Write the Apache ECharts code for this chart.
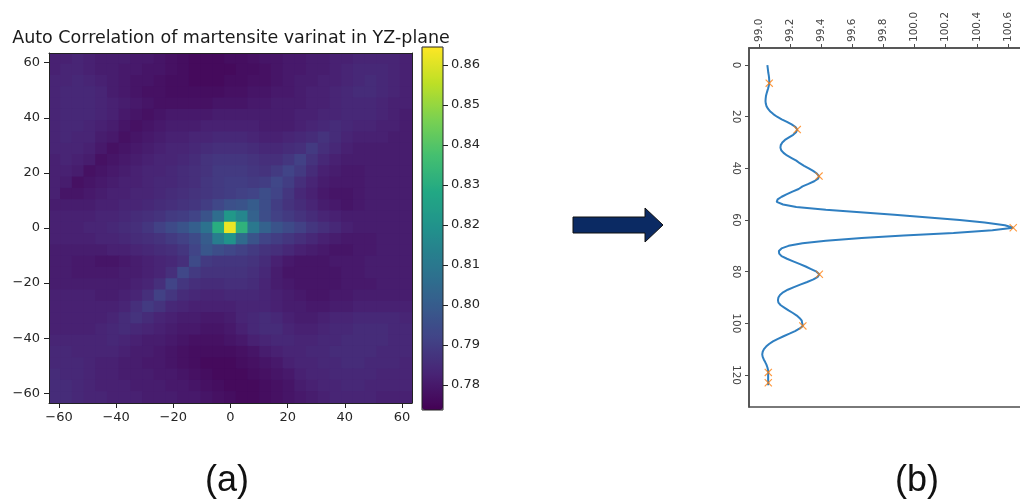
<!DOCTYPE html>
<html><head><meta charset="utf-8">
<script src="https://cdn.jsdelivr.net/npm/echarts@6/dist/echarts.min.js"></script>
<style>html,body{margin:0;padding:0;background:#fff}#c{width:1020px;height:502px}</style>
</head><body><div id="c"></div>
<script>
const titleText = 'Auto Correlation of martensite varinat in YZ-plane';
const heatTicks = [-60, -40, -20, 0, 20, 40, 60];
const colorbarTicks = [0.78, 0.79, 0.80, 0.81, 0.82, 0.83, 0.84, 0.85, 0.86];
const profileValueTicks = [99.0, 99.2, 99.4, 99.6, 99.8, 100.0, 100.2, 100.4, 100.6];
const profileIndexTicks = [0, 20, 40, 60, 80, 100, 120];
const panelLabels = ['(a)', '(b)'];

// auto-correlation values (x 1/1000), 31 rows from y=+63 (top) to y=-63 (bottom), 31 cols from x=-63 to +63
const heatRows = [
[782,782,783,782,781,781,781,780,780,779, 778,777,776,776,776,777,777,778,779,779, 780,780,781,781,782,782,783,783,783,783, 782],
[782,783,783,782,781,781,780,780,779,779, 778,777,776,776,776,776,777,777,778,779, 780,780,781,781,782,783,784,784,784,783, 782],
[783,783,784,783,782,781,780,779,779,778, 777,777,776,776,776,777,777,778,778,779, 780,781,781,782,782,783,784,785,784,783, 782],
[783,784,784,784,783,781,780,779,778,778, 777,777,777,777,777,778,778,779,779,780, 780,781,782,782,783,784,785,785,784,783, 782],
[783,784,784,784,783,782,781,780,779,778, 778,778,778,778,779,779,779,780,780,781, 781,781,782,782,783,784,784,784,783,782, 782],
[783,784,784,784,783,782,780,779,778,779, 780,780,780,780,781,781,781,781,781,781, 781,782,782,783,783,784,784,784,783,782, 781],
[783,784,784,783,782,781,779,778,779,780, 781,781,781,782,782,782,782,782,781,781, 781,782,783,784,785,784,783,783,782,782, 781],
[783,784,783,783,781,780,778,779,780,781, 782,782,783,783,784,784,784,783,782,782, 783,784,785,787,785,783,782,782,782,781, 781],
[783,783,783,782,780,778,779,780,781,782, 783,783,784,785,786,786,786,785,784,784, 785,786,789,786,784,782,781,781,781,781, 781],
[782,783,782,781,778,779,780,781,782,783, 783,784,785,787,788,788,788,787,786,786, 788,791,787,784,782,781,781,781,781,781, 781],
[782,782,781,778,779,780,781,782,783,783, 784,785,786,787,789,789,789,788,787,789, 792,789,785,782,781,780,780,781,781,781, 781],
[782,781,778,779,780,781,782,782,783,784, 784,785,786,788,789,790,790,789,790,793, 790,786,783,781,780,780,780,781,781,781, 781],
[782,779,779,780,781,782,782,783,783,784, 785,786,787,788,789,790,791,792,795,792, 788,784,782,780,779,779,780,781,781,781, 781],
[781,781,781,781,782,782,783,783,784,785, 786,787,788,790,793,796,797,800,795,790, 787,785,783,781,780,779,780,781,781,781, 781],
[782,782,782,782,783,783,784,785,786,787, 789,790,792,797,806,822,815,802,795,791, 789,787,785,783,782,781,781,781,781,781, 781],
[782,782,782,783,783,784,785,786,788,791, 794,797,801,808,830,862,832,810,802,797, 794,791,788,786,784,782,781,781,781,781, 781],
[782,782,782,782,783,783,784,785,786,787, 789,791,794,800,812,820,805,797,792,790, 788,786,784,782,781,780,780,780,781,781, 781],
[781,781,781,781,781,782,782,783,784,785, 786,788,792,798,795,793,791,789,787,786, 784,782,781,780,779,779,780,780,781,781, 781],
[781,781,780,780,779,779,780,781,782,783, 784,786,794,789,788,788,788,787,785,782, 780,779,779,779,780,780,780,781,781,781, 781],
[781,781,780,780,780,780,781,781,782,783, 786,793,789,787,787,787,787,786,784,781, 779,779,779,779,779,780,780,781,781,781, 781],
[781,781,781,781,781,781,781,782,783,786, 792,788,786,785,785,786,786,785,783,781, 780,779,779,779,779,780,780,780,781,781, 781],
[782,782,782,782,781,781,782,783,786,791, 788,785,784,783,783,784,784,784,783,782, 781,780,779,779,780,780,781,781,781,781, 781],
[782,782,782,782,782,782,783,786,789,787, 784,783,782,782,782,782,783,783,783,782, 781,781,780,780,781,781,782,782,782,782, 782],
[782,782,782,782,782,783,785,787,785,783, 782,781,781,780,780,781,783,784,785,784, 782,781,781,782,783,783,784,784,784,784, 783],
[782,782,782,782,783,784,785,784,783,782, 781,780,780,779,779,780,782,784,785,785, 783,782,782,783,784,784,785,785,785,784, 784],
[783,783,783,783,783,784,783,782,781,781, 780,779,778,778,778,779,780,782,783,784, 784,783,783,784,784,785,785,785,785,784, 784],
[784,784,783,783,783,783,782,781,781,780, 779,778,777,777,777,777,778,779,781,782, 783,783,784,784,785,785,785,785,784,784, 784],
[784,784,784,783,782,782,781,781,780,780, 779,778,777,776,776,776,777,778,779,780, 782,783,783,784,784,785,785,784,784,784, 783],
[785,784,784,783,782,782,781,781,781,780, 780,779,778,777,776,776,776,777,778,779, 780,782,783,783,784,784,784,784,783,783, 783],
[785,785,784,783,782,782,782,781,781,781, 780,780,779,778,777,776,776,776,777,778, 779,781,782,783,783,784,784,783,783,783, 783],
[785,785,784,783,783,782,782,782,781,781, 781,780,780,779,778,777,776,776,777,778, 779,780,781,782,783,783,783,783,782,782, 782]
];

// profile (b): value at each index 0..124
const profileValues = [
99.054,99.056,99.058,99.060,99.063,99.065,99.066,99.066,99.063,99.059,
99.054,99.049,99.045,99.043,99.042,99.044,99.049,99.059,99.073,99.092,
99.116,99.146,99.180,99.210,99.235,99.246,99.238,99.220,99.193,99.167,
99.150,99.140,99.138,99.143,99.158,99.180,99.210,99.240,99.262,99.290,
99.320,99.348,99.372,99.386,99.380,99.355,99.318,99.280,99.255,99.215,
99.180,99.146,99.120,99.114,99.155,99.240,99.430,99.650,99.870,100.090,
100.290,100.450,100.580,100.634,100.500,100.250,99.930,99.660,99.430,99.280,
99.190,99.145,99.128,99.130,99.145,99.180,99.220,99.260,99.300,99.335,
99.370,99.388,99.378,99.350,99.310,99.265,99.225,99.185,99.155,99.135,
99.125,99.122,99.125,99.140,99.165,99.190,99.218,99.243,99.262,99.275,
99.278,99.282,99.262,99.232,99.196,99.158,99.122,99.090,99.065,99.046,
99.032,99.024,99.021,99.024,99.031,99.040,99.048,99.054,99.058,99.060,
99.059,99.059,99.059,99.060,99.059
];
const peakIndex = [7, 25, 43, 63, 81, 101, 119, 123];
const peakValues = [99.066, 99.246, 99.386, 100.634, 99.388, 99.282, 99.060, 99.060];

const viridis = ['#440154','#482475','#414487','#355f8d','#2a788e','#21918c','#22a884','#44bf70','#7ad151','#bddf26','#fde725'];

const nRows = heatRows.length, nCols = heatRows[0].length;
const colCats = Array.from({length: nCols}, (_, j) => String(j));
const rowCats = Array.from({length: nRows}, (_, i) => String(i));
const heatData = [];
heatRows.forEach((row, i) => row.forEach((v, j) => heatData.push([j, i, v / 1000])));

const minusFmt = v => (v < 0 ? '\u2212' + Math.abs(v) : String(v));
const dark = '#222';
const font = 'DejaVu Sans';
const profileGridWidth = 295;

const chart = echarts.init(document.getElementById('c'));
chart.setOption({
  animation: false,
  backgroundColor: '#fff',
  title: {
    text: titleText, left: 231, top: 29, textAlign: 'center', padding: 0,
    textStyle: { fontSize: 17.5, fontWeight: 'normal', color: '#1a1a1a', fontFamily: font }
  },
  grid: [
    { left: 49, top: 53, width: 363, height: 350, outerBoundsMode: 'none' },
    { left: 749, top: 48, width: profileGridWidth, height: 359, outerBoundsMode: 'none', show: true, borderColor: '#4d4d4d', borderWidth: 1.5, backgroundColor: 'transparent' },
    { left: 422, top: 47, width: 21, height: 363, outerBoundsMode: 'none', show: true, z: 10, borderColor: dark, borderWidth: 1, backgroundColor: 'transparent' }
  ],
  xAxis: [
    { type: 'category', gridIndex: 0, data: colCats, position: 'top', z: 10,
      axisLine: { show: true, onZero: false, lineStyle: { color: dark, width: 1 } },
      axisTick: { show: false }, axisLabel: { show: false }, splitLine: { show: false } },
    { type: 'value', gridIndex: 0, position: 'bottom', min: -63.5, max: 63.5, z: 10,
      axisLine: { show: true, onZero: false, lineStyle: { color: dark, width: 1 } },
      axisTick: { show: true, length: 5, customValues: heatTicks, lineStyle: { color: dark } },
      axisLabel: { customValues: heatTicks, formatter: minusFmt, fontSize: 13, color: '#262626', margin: 8, fontFamily: font },
      splitLine: { show: false } },
    { type: 'value', gridIndex: 1, position: 'top', min: 98.936, max: 99 + (749 + profileGridWidth - 759) / 155.6,
      axisLine: { show: true, onZero: false, lineStyle: { color: '#4d4d4d', width: 1.5 } },
      axisTick: { show: true, length: 4, customValues: profileValueTicks, lineStyle: { color: '#4d4d4d' } },
      axisLabel: { customValues: profileValueTicks, formatter: v => v.toFixed(1), rotate: -90, fontSize: 10.5, color: '#444', margin: 6, fontFamily: font },
      splitLine: { show: false } },
    { type: 'value', gridIndex: 2, show: false, min: 0, max: 1 }
  ],
  yAxis: [
    { type: 'category', gridIndex: 0, data: rowCats, inverse: true, position: 'right', z: 10,
      axisLine: { show: true, onZero: false, lineStyle: { color: dark, width: 1 } },
      axisTick: { show: false }, axisLabel: { show: false }, splitLine: { show: false } },
    { type: 'value', gridIndex: 0, position: 'left', min: -63.5, max: 63.5, z: 10,
      axisLine: { show: true, onZero: false, lineStyle: { color: dark, width: 1 } },
      axisTick: { show: true, length: 5, customValues: heatTicks, lineStyle: { color: dark } },
      axisLabel: { customValues: heatTicks, formatter: minusFmt, fontSize: 13, color: '#262626', margin: 9, fontFamily: font },
      splitLine: { show: false } },
    { type: 'value', gridIndex: 1, position: 'left', min: -6.6, max: 132.4, inverse: true,
      axisLine: { show: true, onZero: false, lineStyle: { color: '#4d4d4d', width: 1.5 } },
      axisTick: { show: true, length: 4, customValues: profileIndexTicks, lineStyle: { color: '#4d4d4d' } },
      axisLabel: { customValues: profileIndexTicks, rotate: -90, fontSize: 10.5, color: '#444', margin: 8, fontFamily: font },
      splitLine: { show: false } },
    { type: 'value', gridIndex: 2, position: 'right', min: 0.77375, max: 0.8645,
      axisLine: { show: false, onZero: false },
      axisTick: { show: true, length: 5, customValues: colorbarTicks, lineStyle: { color: dark } },
      axisLabel: { customValues: colorbarTicks, formatter: v => v.toFixed(2), fontSize: 13, color: '#262626', margin: 8, fontFamily: font },
      splitLine: { show: false } }
  ],
  visualMap: {
    type: 'continuous', seriesIndex: 0, dimension: 2, min: 0.77375, max: 0.8645,
    inRange: { color: viridis }, left: 422, top: 47, itemWidth: 21, itemHeight: 363,
    calculable: false, padding: 0, hoverLink: false, realtime: false, show: true
  },
  series: [
    { type: 'custom', xAxisIndex: 0, yAxisIndex: 0, data: heatData, clip: true,
      encode: { x: 0, y: 1 },
      renderItem: (params, api) => {
        const p = api.coord([api.value(0), api.value(1)]);
        const s = api.size([1, 1]);
        return { type: 'rect',
          shape: { x: p[0] - s[0] / 2 - 0.6, y: p[1] - s[1] / 2 - 0.6, width: s[0] + 1.2, height: s[1] + 1.2 },
          style: { fill: api.visual('color') } };
      } },
    { type: 'line', xAxisIndex: 2, yAxisIndex: 2, data: profileValues.map((v, i) => [v, i]),
      showSymbol: false, symbol: 'none', lineStyle: { color: '#2f7fc1', width: 2 } },
    { type: 'scatter', xAxisIndex: 2, yAxisIndex: 2, data: peakIndex.map((k, n) => [peakValues[n], k]),
      symbol: 'path://M0,1L1,0L5,4L9,0L10,1L6,5L10,9L9,10L5,6L1,10L0,9L4,5Z', symbolSize: 8,
      itemStyle: { color: '#ff7f0e' }, z: 5 }
  ],
  graphic: [
    { type: 'polygon', shape: { points: [[573,217],[645,217],[645,208],[663,225],[645,242],[645,233],[573,233]] },
      style: { fill: '#0b2a63', stroke: '#111', lineWidth: 1 } },
    { type: 'text', x: 227, y: 481, style: { text: panelLabels[0], font: '36px "Liberation Sans", Arial, sans-serif', fill: '#111', align: 'center', verticalAlign: 'middle' } },
    { type: 'text', x: 917, y: 481, style: { text: panelLabels[1], font: '36px "Liberation Sans", Arial, sans-serif', fill: '#111', align: 'center', verticalAlign: 'middle' } }
  ]
});
</script></body></html>
